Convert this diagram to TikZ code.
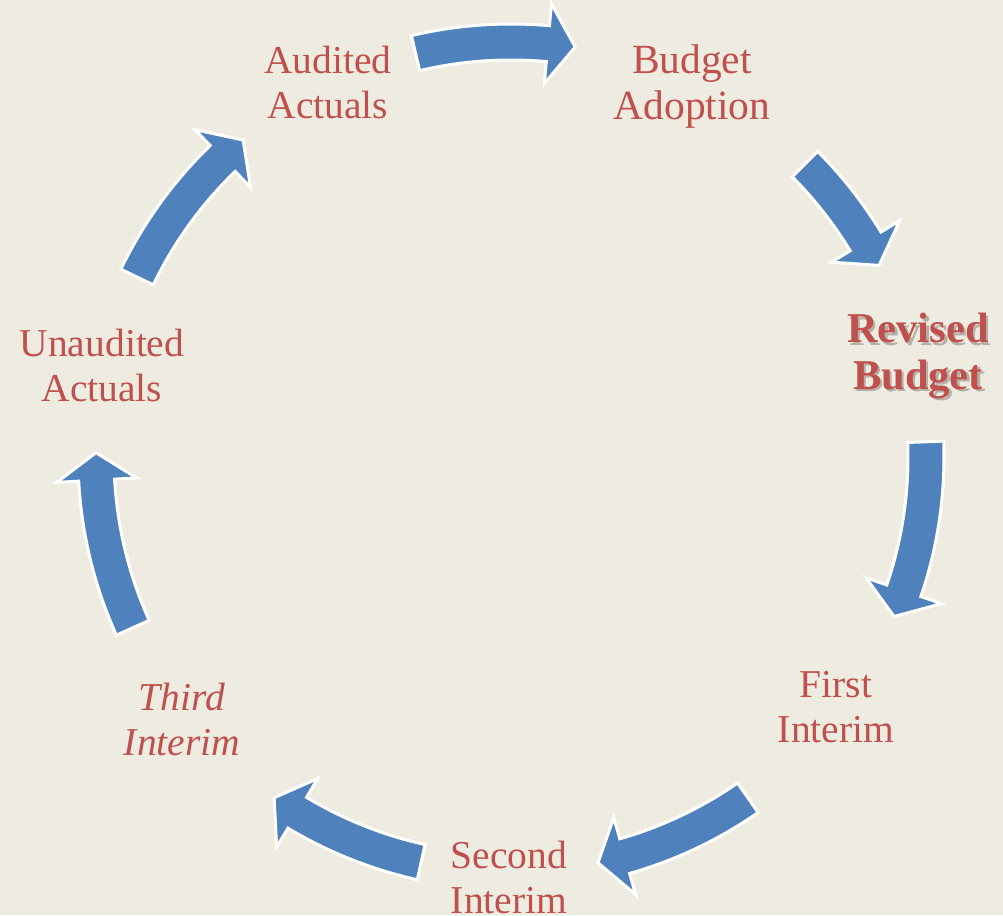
\documentclass[tikz,border=0pt]{standalone}
\usepackage{fontspec}
\setmainfont{Liberation Serif}
\definecolor{bgc}{HTML}{EEECE1}
\definecolor{arrowblue}{HTML}{4F81BD}
\definecolor{txtred}{HTML}{C0504D}
\definecolor{shadowc}{HTML}{B4B0A6}
\newcommand\twoline[2]{\begin{tabular}[t]{@{}c@{}}#1\\#2\end{tabular}}
\newcommand\shadowed[1]{\makebox[0pt][l]{\raisebox{-2.5pt}{\kern2.5pt\textcolor{shadowc}{#1}}}#1}
% curved block arrow on the cycle circle: #1 tail angle, #2 tip angle (clockwise)
\newcommand\cyclearrow[2]{%
  \pgfmathsetmacro\hb{#2+3.8}%
  \filldraw[cyc] (#1:433pt) arc[start angle=#1, end angle=\hb, radius=433pt]
    -- (\hb:455pt) -- (#2:415pt) -- (\hb:375pt) -- (\hb:397pt)
    arc[start angle=\hb, end angle=#1, radius=397pt] -- cycle;}
\begin{document}
\begin{tikzpicture}[x=1pt,y=1pt,
  lbl/.style={anchor=base, inner sep=0pt, text=txtred, font=\fontsize{39.5}{45}\selectfont},
  cyc/.style={fill=arrowblue, draw=white, line width=3pt, line join=miter}]
\fill[bgc] (-511,-458) rectangle (492,457);
\useasboundingbox (-511,-458) rectangle (492,457);
\coordinate (c) at (0,0);
% arrows
\cyclearrow{103.3}{81.1}
\cyclearrow{44.9}{27.5}
\cyclearrow{2.1}{-22.6}
\cyclearrow{-55.2}{-77.9}
\cyclearrow{-102.5}{-124.8}
\cyclearrow{204.3}{179.4}
\cyclearrow{154.3}{130.2}
% labels
\node[lbl] (audited) at (-183,383) {\twoline{Audited}{Actuals}};
\node[lbl, font=\fontsize{41.5}{46}\selectfont] (adoption) at (181,383) {\twoline{Budget}{Adoption}};
\node[lbl, font=\fontsize{42.5}{46.5}\selectfont\bfseries] (revised) at (407,114) {\twoline{\shadowed{Revised}}{\shadowed{Budget}}};
\node[lbl] (first) at (325,-240) {\twoline{First}{Interim}};
\node[lbl] (second) at (-2,-411) {\twoline{Second}{Interim}};
\node[lbl, font=\fontsize{39.5}{45}\selectfont\itshape] (third) at (-329,-253) {\twoline{Third}{Interim}};
\node[lbl] (unaudited) at (-409,100) {\twoline{Unaudited}{Actuals}};
\end{tikzpicture}
\end{document}
